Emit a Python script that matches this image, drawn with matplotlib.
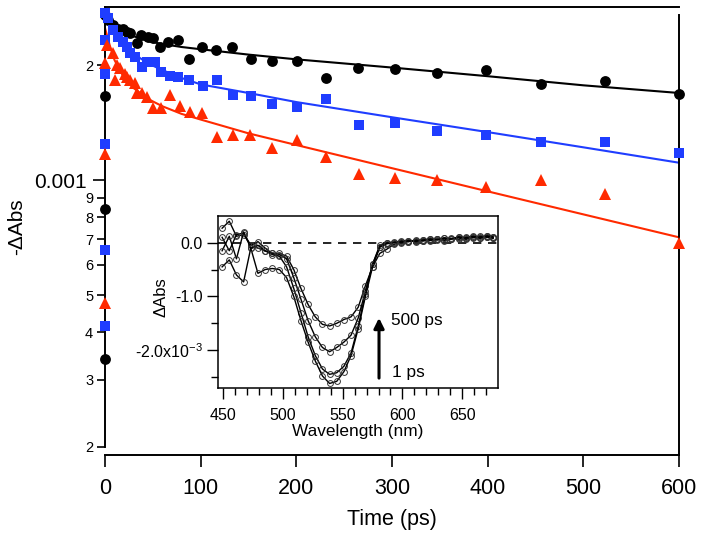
import numpy as np
import matplotlib
matplotlib.use('Agg')
import matplotlib.pyplot as plt
from matplotlib.ticker import FixedLocator, FixedFormatter, NullLocator

plt.rcParams['font.family'] = ['Liberation Sans', 'DejaVu Sans']
plt.rcParams['mathtext.fontset'] = 'custom'
plt.rcParams['mathtext.rm'] = 'Liberation Sans'
plt.rcParams['mathtext.it'] = 'Liberation Sans:italic'

# ---------------- main panel data (values in units of 1e-3) ----------------
black_t = [0, 0, 0, 0, 3.5, 8.7, 13.9, 19.2, 22.6, 26, 33, 38, 45.3, 50.5, 57.5, 66.2,
           76.6, 88, 101, 116, 133, 153, 175, 201, 231, 264, 303, 347, 398, 456, 523, 600]
black_v = [0.34, 0.84, 1.66, 2.70, 2.62, 2.55, 2.49, 2.49, 2.44, 2.42, 2.28, 2.40, 2.37, 2.35,
           2.23, 2.30, 2.33, 2.08, 2.23, 2.19, 2.23, 2.07, 2.05, 2.05, 1.85, 1.97, 1.95, 1.91,
           1.94, 1.78, 1.82, 1.68]

blue_t = [0, 0, 0, 0, 0, 0, 3.5, 8.7, 14, 19, 22.6, 26, 31.4, 38.3, 43.5, 52, 59, 68, 76.6,
          88, 102, 116.7, 134, 153, 175, 201, 231, 265, 303, 347, 398, 456, 523, 600]
blue_v = [0.415, 0.655, 1.24, 1.90, 2.33, 2.73, 2.65, 2.47, 2.37, 2.30, 2.23, 2.15, 2.10, 1.98,
          2.04, 2.04, 1.92, 1.87, 1.86, 1.83, 1.76, 1.83, 1.67, 1.66, 1.58, 1.55, 1.63, 1.39,
          1.41, 1.34, 1.31, 1.26, 1.26, 1.18]

red_t = [0, 0, 0, 1.7, 8.7, 10.5, 12.2, 15.7, 20.9, 22.7, 26, 31.4, 33, 38.3, 43.5, 50.5, 59,
         68, 78.4, 88.8, 101, 116.8, 134, 151.6, 175, 201, 231, 265, 303, 347, 398, 456, 523, 600]
red_v = [0.476, 1.17, 2.02, 2.26, 2.15, 1.83, 2.00, 1.96, 1.90, 1.86, 1.83, 1.79, 1.69, 1.69,
         1.65, 1.54, 1.54, 1.67, 1.56, 1.51, 1.495, 1.30, 1.31, 1.31, 1.215, 1.27, 1.15, 1.04,
         1.01, 1.00, 0.96, 1.00, 0.92, 0.685]

fit_t = [0, 5, 10, 20, 30, 45, 60, 80, 100, 150, 200, 300, 400, 500, 600]
black_fit = [2.67, 2.60, 2.54, 2.45, 2.38, 2.31, 2.27, 2.23, 2.20, 2.13, 2.07, 1.97, 1.87, 1.77, 1.69]
blue_fit = [2.70, 2.56, 2.45, 2.27, 2.14, 2.02, 1.94, 1.85, 1.78, 1.69, 1.60, 1.46, 1.335, 1.218, 1.11]
red_fit = [2.50, 2.25, 2.06, 1.85, 1.74, 1.63, 1.56, 1.49, 1.44, 1.325, 1.235, 1.074, 0.934, 0.813, 0.708]

x_ticks = [0, 100, 200, 300, 400, 500, 600]
y_major = [1e-3]
y_major_labels = ['0.001']
y_minor = [2e-4, 3e-4, 4e-4, 5e-4, 6e-4, 7e-4, 8e-4, 9e-4, 2e-3]
y_minor_labels = ['2', '3', '4', '5', '6', '7', '8', '9', '2']

# ---------------- inset data (units of 1e-3) ----------------
wl = [449, 455, 461, 467, 473, 479, 485, 491, 497, 503, 509, 515, 521, 527, 533, 539, 545,
      551, 557, 563, 569, 575, 581, 587, 593, 599, 605, 611, 617, 623, 629, 635, 641, 647,
      653, 659, 665, 671, 676]
spec_500ps = [0.27, 0.40, 0.12, 0.15, -0.05, -0.10, -0.15, -0.20, -0.20, -0.25, -0.50, -0.85,
              -1.15, -1.38, -1.52, -1.55, -1.50, -1.43, -1.38, -1.20, -0.80, -0.45, -0.20,
              -0.12, -0.03, 0.0, 0.02, 0.04, 0.03, 0.05, 0.06, 0.04, 0.07, 0.09, 0.06, 0.10,
              0.08, 0.11, 0.09]
spec_b = [0.10, -0.15, 0.15, 0.18, -0.05, 0.02, -0.10, -0.20, -0.22, -0.30, -0.65, -1.05,
          -1.45, -1.75, -1.95, -2.03, -1.95, -1.85, -1.72, -1.40, -0.90, -0.40, -0.08, 0.0,
          0.0, 0.02, 0.03, 0.02, 0.05, 0.04, 0.07, 0.05, 0.08, 0.06, 0.10, 0.09, 0.12, 0.10, 0.08]
spec_c = [-0.15, 0.12, -0.30, 0.20, -0.10, -0.05, -0.15, -0.22, -0.25, -0.45, -0.85, -1.30,
          -1.75, -2.10, -2.35, -2.45, -2.42, -2.30, -2.05, -1.55, -0.95, -0.40, -0.05, 0.0,
          0.01, 0.03, 0.02, 0.05, 0.04, 0.06, 0.05, 0.08, 0.07, 0.10, 0.08, 0.11, 0.09, 0.12, 0.10]
spec_1ps = [-0.45, -0.32, -0.60, -0.73, -0.10, -0.57, -0.50, -0.48, -0.50, -0.65, -1.00, -1.45,
            -1.85, -2.20, -2.48, -2.62, -2.58, -2.40, -2.10, -1.60, -1.00, -0.45, -0.08, -0.02,
            0.0, 0.02, 0.04, 0.03, 0.05, 0.07, 0.06, 0.09, 0.07, 0.11, 0.09, 0.12, 0.10, 0.13, 0.11]

inset_xticks = [450, 500, 550, 600, 650]
inset_xminor = [460, 470, 480, 490, 510, 520, 530, 540, 560, 570, 580, 590, 610, 620, 630,
                640, 660, 670]
inset_yticks = [-2.0, -1.0, 0.0]
inset_ylabels = ['-2.0x10$^{-3}$', '-1.0', '0.0']
inset_yminor = [-2.5, -1.5, -0.5]

BLACK = '#000000'
BLUE = '#1f3dff'
RED = '#ff2a00'

fig = plt.figure(figsize=(7.02, 5.38), dpi=100)
ax = fig.add_axes([105 / 702, 1 - 447 / 538, 574 / 702, 440 / 538])
ax.set_yscale('log')
ax.set_xlim(0, 600)
ax.set_ylim(2e-4, 2.838e-3)

sc = 1e-3
ax.plot(fit_t, np.array(black_fit) * sc, color=BLACK, lw=1.5, zorder=2)
ax.plot(fit_t, np.array(blue_fit) * sc, color=BLUE, lw=1.5, zorder=2)
ax.plot(fit_t, np.array(red_fit) * sc, color=RED, lw=1.5, zorder=2)
ax.plot(black_t, np.array(black_v) * sc, 'o', color=BLACK, ms=7.8, mew=0, clip_on=False, zorder=3)
ax.plot(blue_t, np.array(blue_v) * sc, 's', color=BLUE, ms=7.6, mew=0, clip_on=False, zorder=3)
ax.plot(red_t, np.array(red_v) * sc, '^', color=RED, ms=8.2, mew=0, clip_on=False, zorder=3)

ax.yaxis.set_major_locator(FixedLocator(y_major))
ax.yaxis.set_major_formatter(FixedFormatter(y_major_labels))
ax.yaxis.set_minor_locator(FixedLocator(y_minor))
ax.yaxis.set_minor_formatter(FixedFormatter(y_minor_labels))
ax.set_xticks(x_ticks)
ax.set_xticklabels([str(v) for v in x_ticks])
ax.xaxis.set_minor_locator(NullLocator())
ax.tick_params(axis='y', which='major', direction='out', length=9, width=1.2, labelsize=15, pad=4)
ax.tick_params(axis='y', which='minor', direction='out', length=5.5, width=1.2, labelsize=10.5, pad=3)
ax.tick_params(axis='x', which='major', direction='out', length=8.5, width=1.2, labelsize=15.5, pad=8)
for s in ax.spines.values():
    s.set_linewidth(1.4)
ax.spines['bottom'].set_position(('outward', 5.8))
ax.spines['right'].set_bounds(10 ** (np.log10(2e-4) - 8 / 382), 10 ** (np.log10(2.838e-3) - 8 / 382))

ax.set_ylabel('-ΔAbs', fontsize=15)
ax.yaxis.set_label_coords(-0.138, 0.5)
ax.set_xlabel('Time (ps)', fontsize=15.5)
ax.xaxis.set_label_coords(0.5, -0.14)

# ---------------- inset ----------------
ins = fig.add_axes([217.7 / 702, 1 - 388.3 / 538, 280 / 702, 172.3 / 538])
ins.set_xlim(445.3, 679.8)
ins.set_ylim(-2.71, 0.497)
ins.axhline(0, color='black', lw=1.2, ls=(0, (5, 4)), zorder=1)
for spec in (spec_500ps, spec_b, spec_c, spec_1ps):
    ins.plot(wl, spec, '-', color='black', lw=1.0, marker='o', ms=4.2, mfc='none',
             mec='#333333', mew=0.7, zorder=2)
ins.set_xticks(inset_xticks)
ins.set_xticklabels([str(v) for v in inset_xticks])
ins.set_xticks(inset_xminor, minor=True)
ins.set_yticks(inset_yticks)
ins.set_yticklabels(inset_ylabels)
ins.set_yticks(inset_yminor, minor=True)
ins.tick_params(which='major', direction='out', length=8, width=1.0, labelsize=11.5, pad=3)
ins.tick_params(axis='x', which='major', pad=6)
ins.tick_params(which='minor', direction='out', length=5, width=1.0)
for s in ins.spines.values():
    s.set_linewidth(1.1)
ins.set_ylabel('ΔAbs', fontsize=12)
ins.yaxis.set_label_coords(-0.175, 0.53)
ins.set_xlabel('Wavelength (nm)', fontsize=12.4)
ins.xaxis.set_label_coords(0.5, -0.21)

ins.annotate('', xy=(580.4, -1.40), xytext=(580.4, -2.52),
             arrowprops=dict(arrowstyle='-|>', lw=2.2, color='black', mutation_scale=15,
                             shrinkA=0, shrinkB=0))
ins.text(590.3, -1.45, '500 ps', fontsize=12.4, ha='left', va='center')
ins.text(591.6, -2.42, '1 ps', fontsize=12.4, ha='left', va='center')

fig.savefig('out.png', dpi=100)
